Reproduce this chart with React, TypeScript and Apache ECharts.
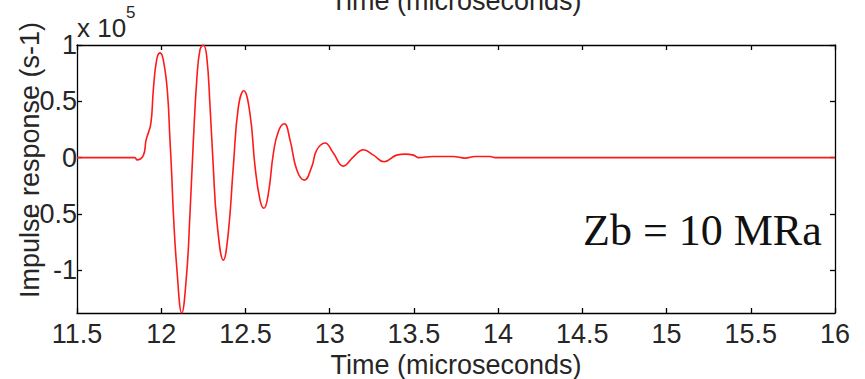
import React, { useEffect, useRef } from "react";
import * as echarts from "echarts";

// Time axis (microseconds)
const timeUs = [
  11.5, 11.844, 11.855, 11.894, 11.91, 11.938, 11.953, 11.973, 11.993, 12.012,
  12.036, 12.052, 12.062, 12.072, 12.092, 12.122, 12.151, 12.171, 12.191, 12.211,
  12.23, 12.25, 12.27, 12.29, 12.309, 12.33, 12.369, 12.398, 12.428, 12.458,
  12.49, 12.527, 12.557, 12.587, 12.61, 12.636, 12.666, 12.695, 12.731, 12.765,
  12.805, 12.85, 12.894, 12.923, 12.973, 13.022, 13.081, 13.141, 13.2, 13.26,
  13.323, 13.398, 13.448, 13.497, 13.527, 13.614, 13.733, 13.804, 13.863, 13.953,
  13.982, 16,
];
// Impulse response (x 10^5 s-1)
const response = [
  0, 0, -0.02, 0.02, 0.155, 0.3, 0.6, 0.87, 0.93, 0.87,
  0.6, 0.155, -0.14, -0.49, -0.97, -1.38, -1.03, -0.49, 0.155, 0.69,
  0.956, 1.0, 0.9, 0.45, -0.08, -0.56, -0.91, -0.67, -0.08, 0.45,
  0.594, 0.39, -0.08, -0.38, -0.45, -0.32, 0.04, 0.23, 0.3, 0.155,
  -0.11, -0.2, -0.08, 0.067, 0.13, 0.04, -0.076, 0.007, 0.07, 0.022,
  -0.037, 0.022, 0.031, 0.022, 0.0, 0.01, 0.01, -0.005, 0.01, 0.01,
  0, 0,
];
const yTickValues = [-1, -0.5, 0, 0.5, 1];
const xTitle = "Time (microseconds)";
const yTitle = "Impulse response (s-1)";
const annotation = "Zb = 10 MRa";

const FONT = "Liberation Sans, Arial, Helvetica, sans-serif";
const TXT = "#262626";

export default function App() {
  const ref = useRef<HTMLDivElement>(null);
  useEffect(() => {
    if (!ref.current) return;
    const chart = echarts.init(ref.current, undefined, { renderer: "svg" });
    const data = timeUs.map((t, i) => [t, response[i]]);
    const axisLine = { show: true, onZero: false, lineStyle: { color: "#000", width: 1.3 } };
    const tick = { show: true, inside: true, length: 5, lineStyle: { color: "#000", width: 1.3 } };
    chart.setOption({
      animation: false,
      backgroundColor: "#fff",
      grid: {
        left: 77,
        right: 30,
        top: 45,
        bottom: 66,
        containLabel: false,
        outerBoundsMode: "none",
      },
      xAxis: [
        {
          type: "value",
          position: "bottom",
          min: 11.5,
          max: 16,
          interval: 0.5,
          axisLine,
          axisTick: tick,
          splitLine: { show: false },
          axisLabel: {
            fontSize: 27,
            fontFamily: FONT,
            color: TXT,
            margin: 7,
            formatter: (v: number) => String(v),
          },
          name: xTitle,
          nameLocation: "middle",
          nameGap: 38,
          nameTextStyle: { fontSize: 27, fontFamily: FONT, color: TXT },
        },
        {
          type: "value",
          position: "top",
          min: 11.5,
          max: 16,
          interval: 0.5,
          axisLine,
          axisTick: tick,
          splitLine: { show: false },
          axisLabel: { show: false },
          name: xTitle,
          nameLocation: "middle",
          nameGap: 31,
          nameTextStyle: { fontSize: 27, fontFamily: FONT, color: TXT },
        },
      ],
      yAxis: [
        {
          type: "value",
          position: "left",
          min: -1.38,
          max: 1,
          axisLine,
          axisTick: { ...tick, customValues: yTickValues },
          splitLine: { show: false },
          axisLabel: {
            customValues: yTickValues,
            fontSize: 27,
            fontFamily: FONT,
            color: TXT,
            margin: 0,
            padding: [6, 0, 0, 0],
            formatter: (v: number) => String(v),
          },
        },
        {
          type: "value",
          position: "right",
          min: -1.38,
          max: 1,
          axisLine,
          axisTick: { ...tick, customValues: yTickValues },
          splitLine: { show: false },
          axisLabel: { show: false, customValues: yTickValues },
        },
      ],
      series: [
        {
          type: "line",
          data,
          xAxisIndex: 0,
          yAxisIndex: 0,
          smooth: 0.45,
          showSymbol: false,
          lineStyle: { color: "#ff1a1a", width: 1.6 },
          clip: true,
        },
      ],
      graphic: [
        {
          type: "text",
          x: 30,
          y: 160,
          rotation: Math.PI / 2,
          style: {
            text: yTitle,
            fontSize: 27,
            fontFamily: FONT,
            fill: TXT,
            align: "center",
            verticalAlign: "middle",
          },
        },
        {
          type: "text",
          x: 77,
          y: 28,
          style: {
            text: "x 10",
            fontSize: 26,
            fontFamily: FONT,
            fill: TXT,
            align: "left",
            verticalAlign: "middle",
          },
        },
        {
          type: "text",
          x: 126,
          y: 12,
          style: {
            text: "5",
            fontSize: 17,
            fontFamily: FONT,
            fill: TXT,
            align: "left",
            verticalAlign: "middle",
          },
        },
        {
          type: "text",
          x: 583,
          y: 230,
          style: {
            text: annotation,
            fontSize: 44,
            fontFamily: "Liberation Serif, Times New Roman, serif",
            fill: "#111",
            align: "left",
            verticalAlign: "middle",
          },
        },
      ],
    });
    return () => chart.dispose();
  }, []);
  return (
    <div
      ref={ref}
      style={{ position: "fixed", left: 0, top: 0, width: 865, height: 379 }}
    />
  );
}
